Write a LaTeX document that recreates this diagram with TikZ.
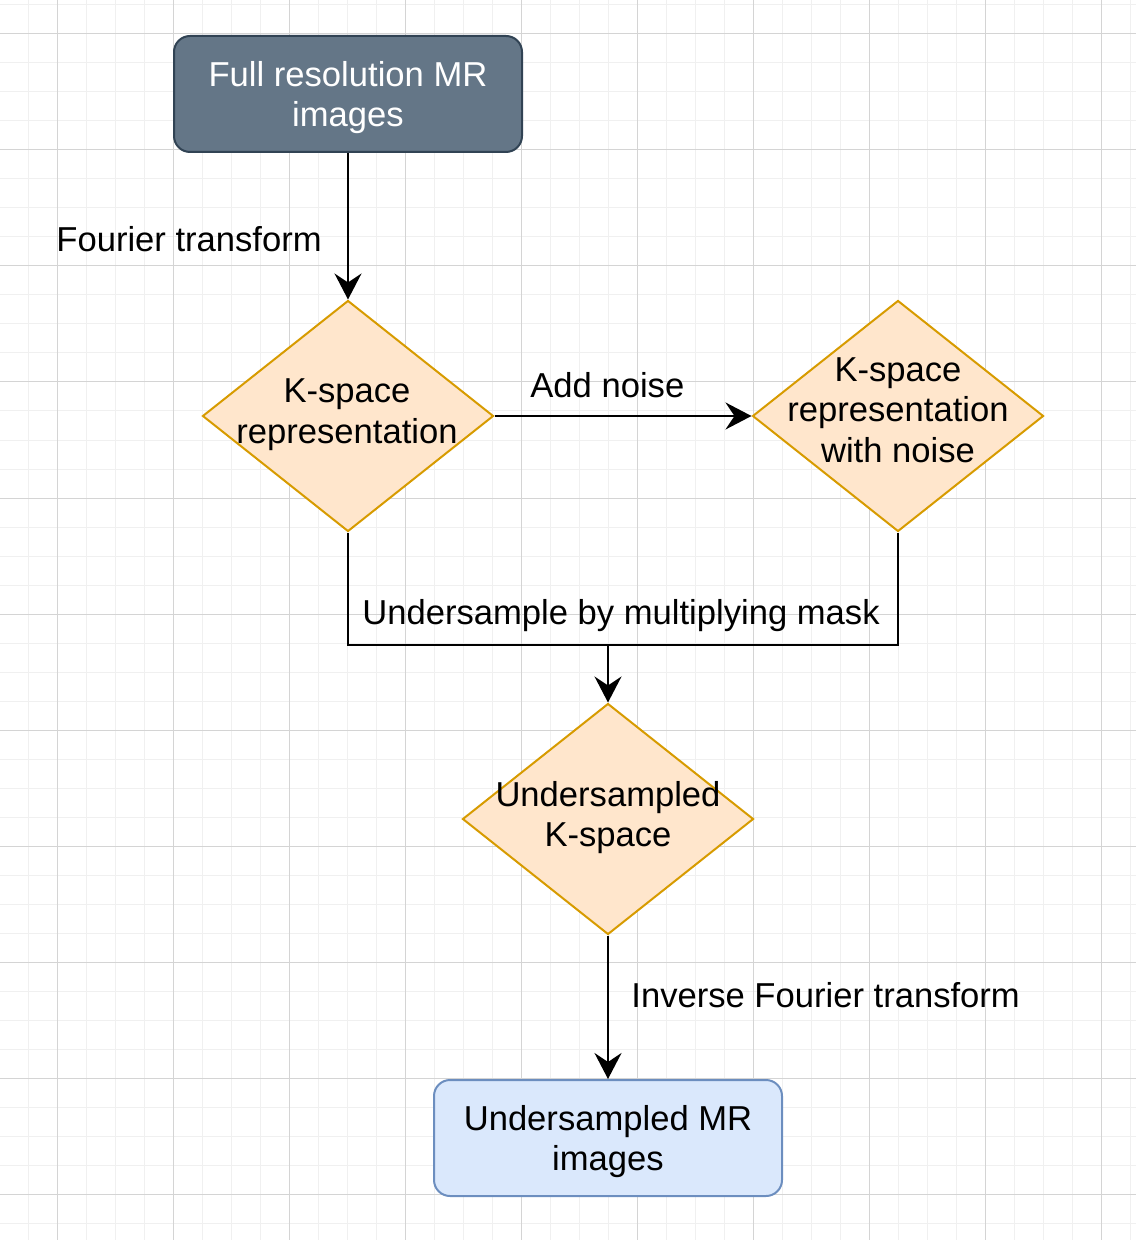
\documentclass[tikz,border=0pt]{standalone}
\usepackage{fontspec}
\setmainfont{Liberation Sans}
\usepackage{xcolor}
\usepackage{tikz}
\usetikzlibrary{shapes.geometric}
\usetikzlibrary{arrows.meta}

\definecolor{slatefill}{HTML}{647687}
\definecolor{slateline}{HTML}{314354}
\definecolor{peachfill}{HTML}{FFE6CC}
\definecolor{peachline}{HTML}{D79B00}
\definecolor{skyfill}{HTML}{DAE8FC}
\definecolor{skyline}{HTML}{6C8EBF}
\definecolor{gridminor}{HTML}{F0F0F0}
\definecolor{gridmajor}{HTML}{D4D4D4}

\begin{document}
\begin{tikzpicture}[x=0.5pt,y=-0.5pt,
    every node/.style={font=\fontsize{17.3}{20.25}\selectfont},
    imgbox/.style={draw,rounded corners=8pt,line width=1pt,minimum width=174pt,
      minimum height=58pt,inner sep=0pt,align=center,text depth=0pt},
    kbox/.style={diamond,draw=peachline,fill=peachfill,line width=1pt,
      minimum width=145.5pt,minimum height=115.5pt,inner sep=0pt},
    ktext/.style={align=center,inner sep=0pt,text depth=0pt},
    flowlabel/.style={anchor=base west,inner sep=0pt},
    flow/.style={line width=1.1pt,-{Stealth[length=13pt,width=13.5pt,inset=4.5pt]}}]
    \useasboundingbox (0,0) rectangle (1136,1240);
    % background grid
    \foreach \i in {0,...,39}
      \draw[gridminor,line width=0.5pt] ({28+29*\i},0) -- ({28+29*\i},1240);
    \foreach \i in {0,...,42}
      \draw[gridminor,line width=0.5pt] (0,{5+29*\i}) -- (1136,{5+29*\i});
    \foreach \i in {0,...,9}
      \draw[gridmajor,line width=0.5pt] ({57+116*\i},0) -- ({57+116*\i},1240);
    \foreach \i in {0,...,10}
      \draw[gridmajor,line width=0.5pt] (0,{34+116*\i}) -- (1136,{34+116*\i});

    \node[imgbox,fill=slatefill,draw=slateline,text=white] (full) at (348,94) {Full resolution MR\\images};
    \node[kbox] (kspace) at (348,416) {};
    \node[ktext] (kspace-text) at (347,411) {K-space\\representation};
    \node[kbox] (knoise) at (898,416) {};
    \node[ktext] (knoise-text) at (898,410) {K-space\\representation\\with noise};
    \node[kbox] (under) at (608,819) {};
    \node[ktext] (under-text) at (608,814) {Undersampled\\K-space};
    \node[imgbox,fill=skyfill,draw=skyline] (undermr) at (608,1138) {Undersampled MR\\images};
    \coordinate (merge) at (608,645);

    \draw[flow] (full) -- (kspace);
    \node[flowlabel] (fourier) at (56,252) {Fourier transform};
    \draw[flow] (kspace) -- (knoise);
    \node[flowlabel] (addnoise) at (530,398) {Add noise};
    \draw[line width=1.1pt] (kspace.south) |- (merge) -| (knoise.south);
    \draw[flow] (merge) -- (under);
    \node[flowlabel] (mask) at (362,624) {Undersample by multiplying mask};
    \draw[flow] (under) -- (undermr);
    \node[flowlabel] (inverse) at (631,1007) {Inverse Fourier transform};
\end{tikzpicture}
\end{document}
